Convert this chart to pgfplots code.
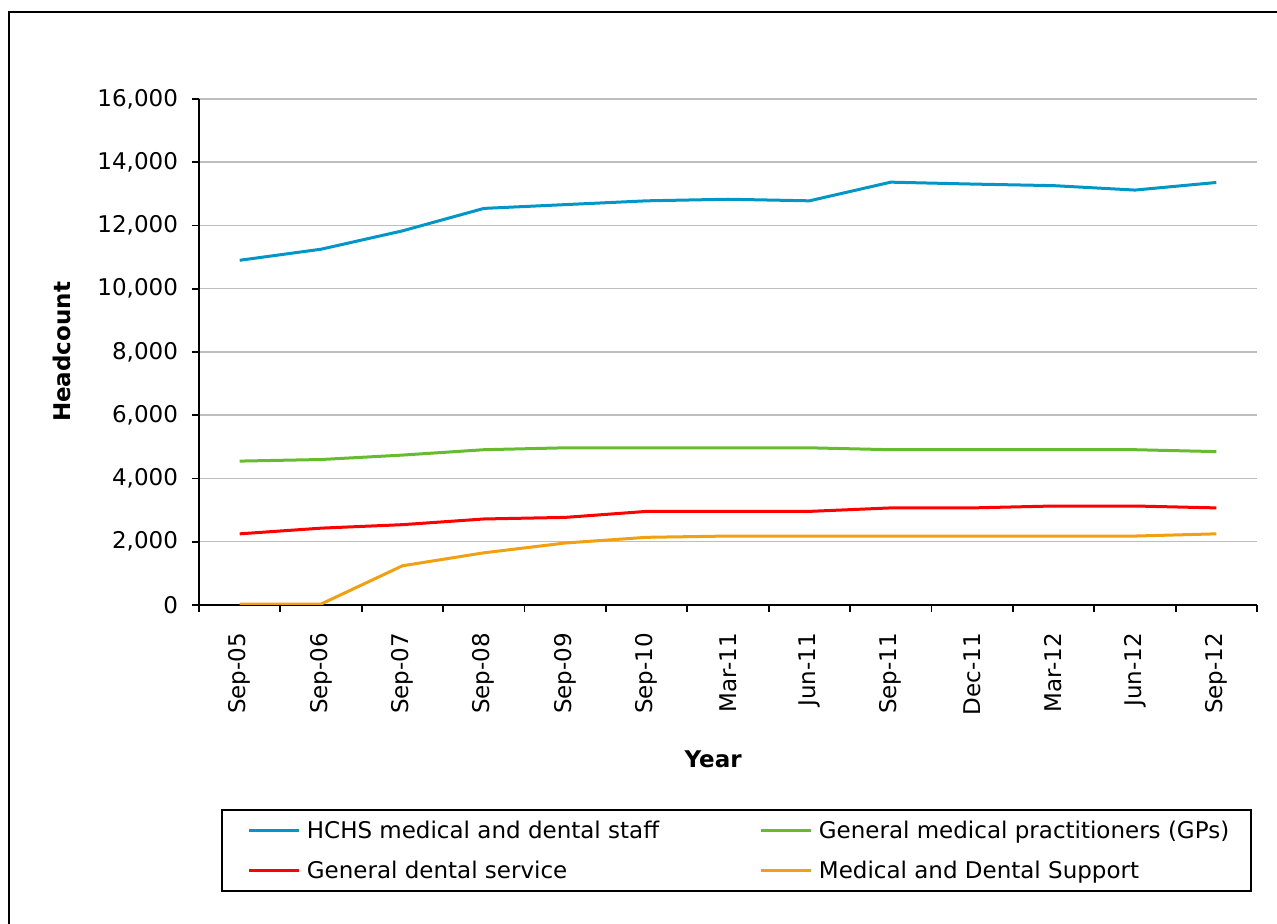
\documentclass[border=0pt]{standalone}
\usepackage{fontspec}
\setmainfont{DejaVu Sans}
\usepackage{pgfplots}
\usepackage{pgfplotstable}
\pgfplotsset{compat=1.18}

\definecolor{hchsblue}{RGB}{0,150,200}
\definecolor{gpgreen}{RGB}{102,187,46}
\definecolor{gdsred}{RGB}{255,0,0}
\definecolor{mdsorange}{RGB}{240,160,16}
\definecolor{gridgray}{RGB}{190,190,190}

% Headcount by date: HCHS staff, GPs, general dental service, support staff
\pgfplotstableread{
idx hchs gp gds mds
0 10900 4550 2250 30
1 11250 4600 2430 30
2 11830 4740 2540 1240
3 12540 4910 2720 1650
4 12660 4970 2770 1960
5 12780 4970 2960 2140
6 12830 4970 2960 2180
7 12780 4970 2960 2180
8 13370 4910 3070 2180
9 13310 4910 3070 2180
10 13260 4910 3130 2180
11 13120 4910 3130 2180
12 13360 4850 3070 2250
}\datatable

\newcommand{\chartfont}{\fontsize{11.5}{14}\selectfont}

\begin{document}
\begin{tikzpicture}
\path[use as bounding box] (0pt,0pt) rectangle (638.5pt,462pt);
\draw[line width=1pt] (4.5pt,-5pt) -- (4.5pt,456pt) -- (645pt,456pt);
\begin{axis}[
  at={(99.5pt,159.5pt)}, anchor=south west,
  scale only axis, width=529pt, height=253pt,
  xmin=-0.5, xmax=12.5, ymin=0, ymax=16000,
  axis x line*=bottom, axis y line*=left,
  axis line style={line width=0.9pt, black},
  xtick={0,...,12},
  xticklabels={Sep-05,Sep-06,Sep-07,Sep-08,Sep-09,Sep-10,Mar-11,Jun-11,Sep-11,Dec-11,Mar-12,Jun-12,Sep-12},
  minor xtick={-0.5,0.5,...,12.5},
  major x tick style={draw=none},
  minor x tick style={line width=0.9pt, black},
  ytick={0,2000,...,16000},
  y tick style={line width=0.9pt, black},
  tick align=outside,
  major tick length=3.5pt, minor tick length=3.5pt,
  ymajorgrids, grid style={gridgray, line width=0.75pt},
  scaled y ticks=false,
  /pgf/number format/assume math mode=true,
  yticklabel style={font=\chartfont, xshift=-3.5pt, /pgf/number format/1000 sep={,}},
  x tick label style={font=\chartfont, yshift=-7pt, rotate=90, anchor=east},
  xlabel={Year}, ylabel={Headcount},
  xlabel style={font=\chartfont\bfseries, at={(axis description cs:0.486,-0.304)}, anchor=center},
  ylabel style={font=\chartfont\bfseries, at={(axis description cs:-0.1295,0.5)}, anchor=center},
  legend columns=2,
  legend image code/.code={\draw[#1] (0pt,0pt) -- (25pt,0pt);},
  legend style={
    at={(axis description cs:0.0208,-0.403)}, anchor=north west,
    draw=black, line width=0.9pt,
    inner xsep=13pt, inner ysep=6pt,
    nodes={inner sep=0pt, text height=8.5pt, text depth=0pt},
    row sep=11.5pt,
    font=\chartfont,
    /tikz/every odd column/.append style={column sep=3pt},
    /tikz/every even column/.append style={column sep=0pt},
  },
  legend cell align=left,
  every axis plot/.append style={line width=1.5pt, mark=none},
]
\addplot[hchsblue] table[x=idx, y=hchs] {\datatable};
\addlegendentry{\makebox[226.5pt][l]{HCHS medical and dental staff}}
\addplot[gpgreen] table[x=idx, y=gp] {\datatable};
\addlegendentry{\makebox[203pt][l]{General medical practitioners (GPs)}}
\addplot[gdsred] table[x=idx, y=gds] {\datatable};
\addlegendentry{\makebox[226.5pt][l]{General dental service}}
\addplot[mdsorange] table[x=idx, y=mds] {\datatable};
\addlegendentry{\makebox[203pt][l]{Medical and Dental Support}}
\end{axis}
\end{tikzpicture}
\end{document}
